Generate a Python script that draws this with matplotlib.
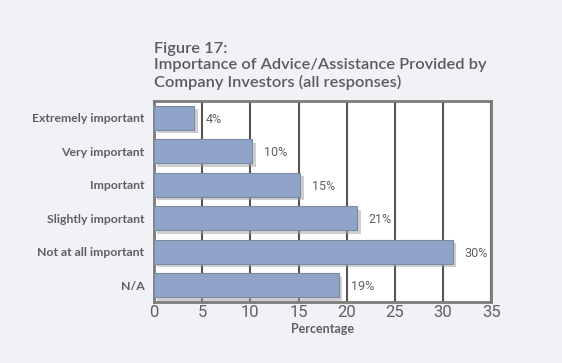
import matplotlib
matplotlib.use('Agg')
import matplotlib.pyplot as plt
import matplotlib.patheffects as pe
import numpy as np

categories = ['Extremely important', 'Very important', 'Important',
              'Slightly important', 'Not at all important', 'N/A']
bar_values = [4.2, 10.2, 15.2, 21.1, 31.0, 19.2]
value_labels = ['4%', '10%', '15%', '21%', '30%', '19%']
xticks = [0, 5, 10, 15, 20, 25, 30, 35]

bg = '#f1f2f6'
txt = '#5f5f66'
cond = dict(family='Roboto')

fig = plt.figure(figsize=(5.62, 3.63), dpi=100, facecolor=bg)
ax = fig.add_axes([0.274, 0.168, 0.6, 0.554])
ax.set_facecolor('white')

y = np.arange(len(categories))
bars = ax.barh(y, bar_values, height=0.72, color='#8fa4c8',
               edgecolor='#7b8aa3', linewidth=0.8, zorder=3)
for b in bars:
    b.set_path_effects([pe.SimplePatchShadow(offset=(2.5, -2.5), shadow_rgbFace='#a0a0a0', alpha=0.5),
                        pe.Normal()])

for yi, v, lab in zip(y, bar_values, value_labels):
    ax.text(v + 1.2, yi + 0.05, lab, va='center', ha='left', fontsize=9,
            color=txt, **cond)

ax.set_xlim(0, 35)
ax.set_ylim(len(categories) - 0.5, -0.5)
ax.set_xticks(xticks)
ax.set_xticklabels([str(t) for t in xticks], fontsize=12, color=txt, **cond)
ax.set_yticks(y)
ax.set_yticklabels(categories, fontsize=8.8, color=txt, family='Lato', fontweight='bold')
ax.tick_params(axis='y', length=0, pad=7)
ax.tick_params(axis='x', length=0, pad=2)
ax.xaxis.grid(True, color='#555555', linewidth=1.5, zorder=1)
for s in ax.spines.values():
    s.set_color('#7a7a7a')
    s.set_linewidth(2)
ax.set_axisbelow(True)
ax.set_xlabel('Percentage', fontsize=9, color=txt, family='Lato', fontweight='bold', labelpad=2)

fig.text(0.274, 0.884, 'Figure 17:\nImportance of Advice/Assistance Provided by\nCompany Investors (all responses)',
         fontsize=11.8, color='#5a5a60', family='Lato', fontweight='semibold',
         ha='left', va='top', linespacing=1.2)

plt.savefig('out.png', dpi=100, facecolor=bg)
